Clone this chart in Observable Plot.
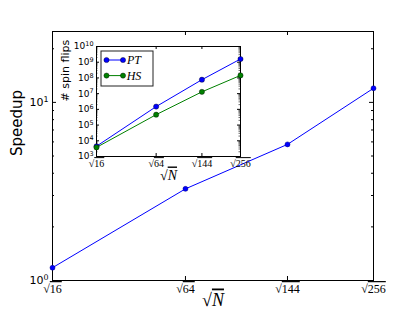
<!DOCTYPE html>
<html><head><meta charset="utf-8">
<script src="https://cdn.jsdelivr.net/npm/d3@7"></script>
<script src="https://cdn.jsdelivr.net/npm/@observablehq/plot@0.6"></script>
<style>
html,body{margin:0;padding:0;background:#fff;}
#wrap{position:relative;width:415px;height:312px;overflow:hidden;background:#fff;}
</style></head><body><div id="wrap"></div>
<script>
// ---- data ----
const sqrtN = [4, 8, 12, 16];
const xTickLabels = ["16", "64", "144", "256"];
const speedup = [1.18, 3.27, 5.81, 12.0];
const flipsPT = [4.5e3, 1.5e6, 7.7e7, 1.6e9];
const flipsHS = [3.8e3, 4.6e5, 1.3e7, 1.45e8];
const seriesNames = ["PT", "HS"];
const seriesColors = ["#0000ff", "#008000"];
const mainYTicks = [1, 10];
const mainYMinor = [2, 3, 4, 5, 6, 7, 8, 9, 20];
const insetYTicks = [1e3, 1e4, 1e5, 1e6, 1e7, 1e8, 1e9, 1e10];

const fmtPow = d => "10^" + Math.round(Math.log10(d));
const fmtSqrt = d => "√" + xTickLabels[sqrtN.indexOf(d)];
const insetYMinor = [];
insetYTicks.slice(0, -1).forEach(t => { for (let k = 2; k <= 9; k++) insetYMinor.push(t * k); });

const wrap = document.getElementById("wrap");

// ---- main plot ----
const W = 415, H = 312, mL = 52, mR = 42, mT = 31, mB = 32;
const pw = W - mL - mR, ph = H - mT - mB;
const mainData = sqrtN.map((x, i) => ({x, y: speedup[i]}));
const main = Plot.plot({
  width: W, height: H, marginLeft: mL, marginRight: mR, marginTop: mT, marginBottom: mB,
  style: {fontFamily: "DejaVu Sans", background: "transparent", overflow: "visible", color: "black"},
  x: {type: "pow", exponent: 0.5, domain: [4, 16]},
  y: {type: "log", domain: [1, 25]},
  marks: [
    Plot.frame({stroke: "black", strokeWidth: 1}),
    Plot.tickY(mainYTicks, {y: d => d, insetRight: pw - 4, stroke: "black"}),
    Plot.tickY(mainYTicks, {y: d => d, insetLeft: pw - 4, stroke: "black"}),
    Plot.tickY(mainYMinor, {y: d => d, insetRight: pw - 2, stroke: "black"}),
    Plot.tickY(mainYMinor, {y: d => d, insetLeft: pw - 2, stroke: "black"}),
    Plot.tickX(sqrtN, {x: d => d, insetTop: ph - 4, stroke: "black"}),
    Plot.tickX(sqrtN, {x: d => d, insetBottom: ph - 4, stroke: "black"}),
    Plot.axisY(mainYTicks, {tickSize: 0, tickPadding: 4, tickFormat: fmtPow, fontSize: 11, label: null}),
    Plot.axisX(sqrtN, {tickSize: 0, tickPadding: 4, tickFormat: fmtSqrt, fontSize: 12, fontFamily: "Liberation Serif", label: null}),
    Plot.line(mainData, {x: "x", y: "y", stroke: "#0000ff", strokeWidth: 1}),
    Plot.dot(mainData, {x: "x", y: "y", r: 2.5, fill: "#0000ff", stroke: "#000080", strokeWidth: 0.5}),
    Plot.text(["Speedup"], {frameAnchor: "left", rotate: -90, dx: -35, fontSize: 15, text: d => d}),
    Plot.text(["√N"], {frameAnchor: "bottom", dy: 25, fontSize: 18, fontFamily: "Liberation Serif", text: d => d})
  ]
});
main.style.position = "absolute"; main.style.left = "0px"; main.style.top = "0px";
wrap.appendChild(main);

// ---- inset ----
const iL = 50, iT = 36, iW = 200, iH = 150, imL = 46, imR = 10, imT = 10, imB = 30;
const ipw = iW - imL - imR, iph = iH - imT - imB;
const insetData = [];
sqrtN.forEach((x, i) => { insetData.push({x, y: flipsPT[i], s: seriesNames[0]}); });
sqrtN.forEach((x, i) => { insetData.push({x, y: flipsHS[i], s: seriesNames[1]}); });
const inset = Plot.plot({
  width: iW, height: iH, marginLeft: imL, marginRight: imR, marginTop: imT, marginBottom: imB,
  style: {fontFamily: "DejaVu Sans", background: "transparent", overflow: "visible", color: "black"},
  x: {type: "pow", exponent: 0.5, domain: [4, 16]},
  y: {type: "log", domain: [1e3, 1e10]},
  color: {domain: seriesNames, range: seriesColors},
  marks: [
    Plot.frame({stroke: "black", strokeWidth: 1, fill: "white"}),
    Plot.tickY(insetYTicks, {y: d => d, insetRight: ipw - 3, stroke: "black"}),
    Plot.tickY(insetYTicks, {y: d => d, insetLeft: ipw - 3, stroke: "black"}),
    Plot.tickY(insetYMinor, {y: d => d, insetRight: ipw - 1.5, stroke: "black", strokeWidth: 0.6}),
    Plot.tickY(insetYMinor, {y: d => d, insetLeft: ipw - 1.5, stroke: "black", strokeWidth: 0.6}),
    Plot.tickX(sqrtN, {x: d => d, insetTop: iph - 3, stroke: "black"}),
    Plot.tickX(sqrtN, {x: d => d, insetBottom: iph - 3, stroke: "black"}),
    Plot.axisY(insetYTicks, {tickSize: 0, tickPadding: 3, tickFormat: fmtPow, fontSize: 9, label: null}),
    Plot.axisX(sqrtN, {tickSize: 0, tickPadding: 3.5, tickFormat: fmtSqrt, fontSize: 10, fontFamily: "Liberation Serif", label: null}),
    Plot.line(insetData, {x: "x", y: "y", z: "s", stroke: "s", strokeWidth: 1}),
    Plot.dot(insetData, {x: "x", y: "y", r: 2.6, fill: "s", stroke: "#000", strokeWidth: 0.4}),
    Plot.text(["# spin flips"], {frameAnchor: "left", rotate: -90, dx: -31, fontSize: 11, text: d => d}),
    Plot.text(["√N"], {frameAnchor: "bottom", dy: 23, fontSize: 14, fontFamily: "Liberation Serif", text: d => d})
  ]
});
inset.style.position = "absolute"; inset.style.left = iL + "px"; inset.style.top = iT + "px";
wrap.appendChild(inset);

// legend (inside inset, top-left)
const lg = d3.select(inset).append("g").attr("transform", `translate(${imL + 5},${imT + 5})`);
lg.append("rect").attr("x", 0).attr("y", 0).attr("width", 52).attr("height", 35)
  .attr("fill", "white").attr("stroke", "#222").attr("stroke-width", 1);
seriesNames.forEach((name, i) => {
  const yy = 9 + i * 15.6;
  lg.append("line").attr("x1", 5.5).attr("x2", 22).attr("y1", yy).attr("y2", yy)
    .attr("stroke", seriesColors[i]).attr("stroke-width", 1);
  [5.5, 22].forEach(cx => lg.append("circle").attr("cx", cx).attr("cy", yy).attr("r", 2.6)
    .attr("fill", seriesColors[i]).attr("stroke", "#000").attr("stroke-width", 0.4));
  lg.append("text").attr("x", 33).attr("y", yy).attr("dy", "0.35em")
    .attr("font-family", "Liberation Serif").attr("font-style", "italic").attr("font-size", 12)
    .attr("fill", "black").text(name);
});

// math-style rendering: overline radicands, italic N, superscript exponents
function mathify(svg) {
  d3.select(svg).selectAll("text").each(function() {
    const t = this.textContent;
    if (this.querySelector("tspan")) return;
    const sel = d3.select(this);
    if (t.startsWith("√")) {
      const rest = t.slice(1);
      sel.text("");
      sel.append("tspan").text("√");
      const r = sel.append("tspan").attr("text-decoration", "overline").text(rest);
      if (rest === "N") r.attr("font-style", "italic");
    } else if (/^10\^\d+$/.test(t)) {
      const e = t.split("^")[1];
      sel.text("");
      sel.append("tspan").text("10");
      sel.append("tspan").attr("font-size", "0.72em").attr("dy", "-0.5em").text(e);
    }
  });
}
mathify(main); mathify(inset);
</script></body></html>
